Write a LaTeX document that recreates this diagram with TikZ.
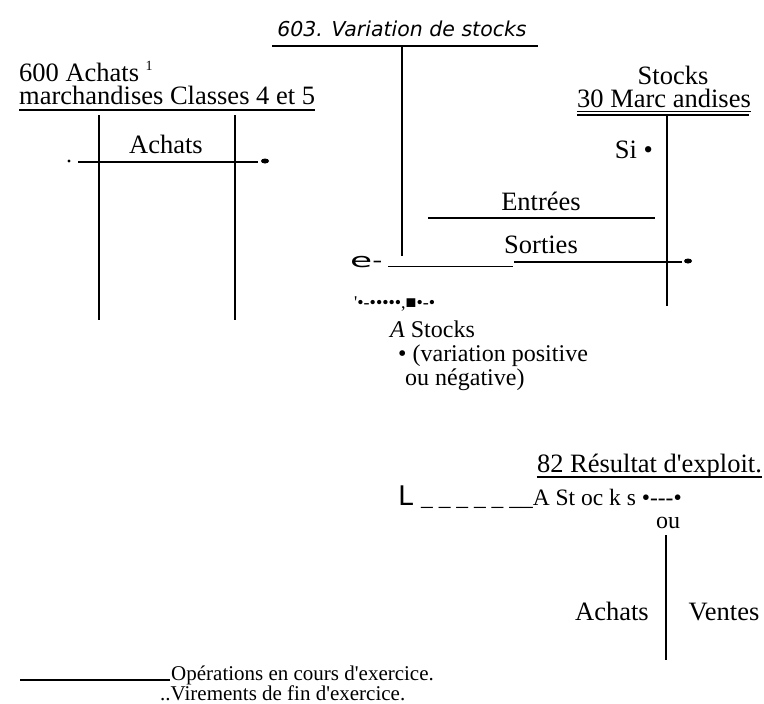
\documentclass[tikz,border=0pt]{standalone}
\usepackage{fontspec}
\usepackage{graphicx}
\newfontfamily\tnr{Liberation Serif}
\newfontfamily\dejavu{DejaVu Sans}
\usetikzlibrary{positioning}

\begin{document}
\begin{tikzpicture}[x=1pt,y=-1pt,
	txt/.style={inner sep=0pt,font=\tnr\fontsize{26.5}{28}\selectfont},
	moyen/.style={inner sep=0pt,font=\tnr\fontsize{24}{26}\selectfont},
	petit/.style={inner sep=0pt,font=\tnr\fontsize{21}{23}\selectfont},
	trait/.style={line width=2pt},
	fin/.style={line width=1.3pt}]
					\useasboundingbox (0,0) rectangle (764,704);
					%600 ACHATS
					\node[txt,anchor=base west] (achats) at (19,81) {600 Achats};
					\node[inner sep=0pt,anchor=base west,font=\tnr\fontsize{14}{14}\selectfont] (renvoi) at ([xshift=6pt,yshift=11pt]achats.base east) {1};
					\node[txt,anchor=base west] (classes) at (19,104) {marchandises Classes 4 et 5};
					\draw[fin] ([yshift=-6pt]classes.base west) -- ([yshift=-6pt]classes.base east);
					\draw[fin] (99,115) -- (99,320);
					\draw[line width=2.5pt] (235,115) -- (235,320);
					\node[txt,anchor=base] (achatsA) at (166,153) {Achats};
					\draw[trait] (78,162) -- (258,162);
					\fill (69,161) circle (1.6pt);
					\fill (265,161) ellipse (4pt and 2.5pt);
					%603 VARIATION
					\node[inner sep=0pt,anchor=base,font=\dejavu\itshape\fontsize{20.5}{22}\selectfont] (variation) at (402,36) {603. Variation de stocks};
					\draw[trait] (272,46) -- (538,46);
					\draw[line width=2.5pt] (402,46) -- (402,256);
					\node[inner sep=0pt,anchor=base west,font=\dejavu\fontsize{20}{20}\selectfont] (e) at (350,267) {\scalebox{1.8}[1]{e}\scalebox{1.4}[1]{-}};
					\draw[line width=1pt] (388,266) -- (513,266);
					\node[inner sep=0pt,anchor=base west,font=\tnr\fontsize{18}{18}\selectfont] (bruit) at (354,308) {'•-•••••,■•-•};
					\node[moyen,anchor=base west] (delta) at (390,337) {{\itshape A} Stocks};
					\node[moyen,anchor=base west] (signe) at (398,361) {• (variation positive};
					\node[moyen,anchor=base west] (signeB) at (405,385) {ou négative)};
					%30 STOCKS
					\node[txt,anchor=base] (stocks) at (673,84) {Stocks};
					\node[txt,anchor=base] (marc) at (664,107) {30 Marc andises};
					\draw[line width=1pt] ([yshift=-4pt]marc.base west) -- ([yshift=-4pt]marc.base east);
					\draw[line width=2.5pt] (577,115) -- (749,115);
					\draw[trait] (667,115) -- (667,306);
					\node[txt,anchor=base east] (si) at (653,158) {Si •};
					\node[txt,anchor=base] (entrees) at (541,210) {Entrées};
					\draw[trait] (428,218) -- (655,218);
					\node[txt,anchor=base] (sorties) at (541,253) {Sorties};
					\draw[trait] (514,262) -- (682,262);
					\fill (688,261) ellipse (4pt and 2.5pt);
					%82 RESULTAT
					\node[txt,anchor=base] (resultat) at (649.5,472) {82 Résultat d'exploit.};
					\draw[fin] ([yshift=-5pt]resultat.base west) -- ([yshift=-5pt]resultat.base east);
					\node[inner sep=0pt,anchor=base west,font=\dejavu\fontsize{27}{27}\selectfont] (L) at (398,505) {L};
					\node[inner sep=0pt,anchor=base west,font=\tnr\fontsize{23.5}{25}\selectfont] (tirets) at (421,505) {\_ \_ \_ \_ \_ \_\_A St oc k s •---•};
					\node[moyen,anchor=base] (ou) at (668,528) {ou};
					\draw[trait] (666,535) -- (666,660);
					\node[txt,anchor=base] (achatsR) at (612,620) {Achats};
					\node[txt,anchor=base] (ventes) at (724,620) {Ventes};
					%LEGENDE
					\draw[fin] (20,680) -- (170,680);
					\node[petit,anchor=base west] (ops) at (171,680) {Opérations en cours d'exercice.};
					\node[petit,anchor=base west] (vir) at (160,700) {..Virements de fin d'exercice.};
	  \end{tikzpicture}
\end{document}
